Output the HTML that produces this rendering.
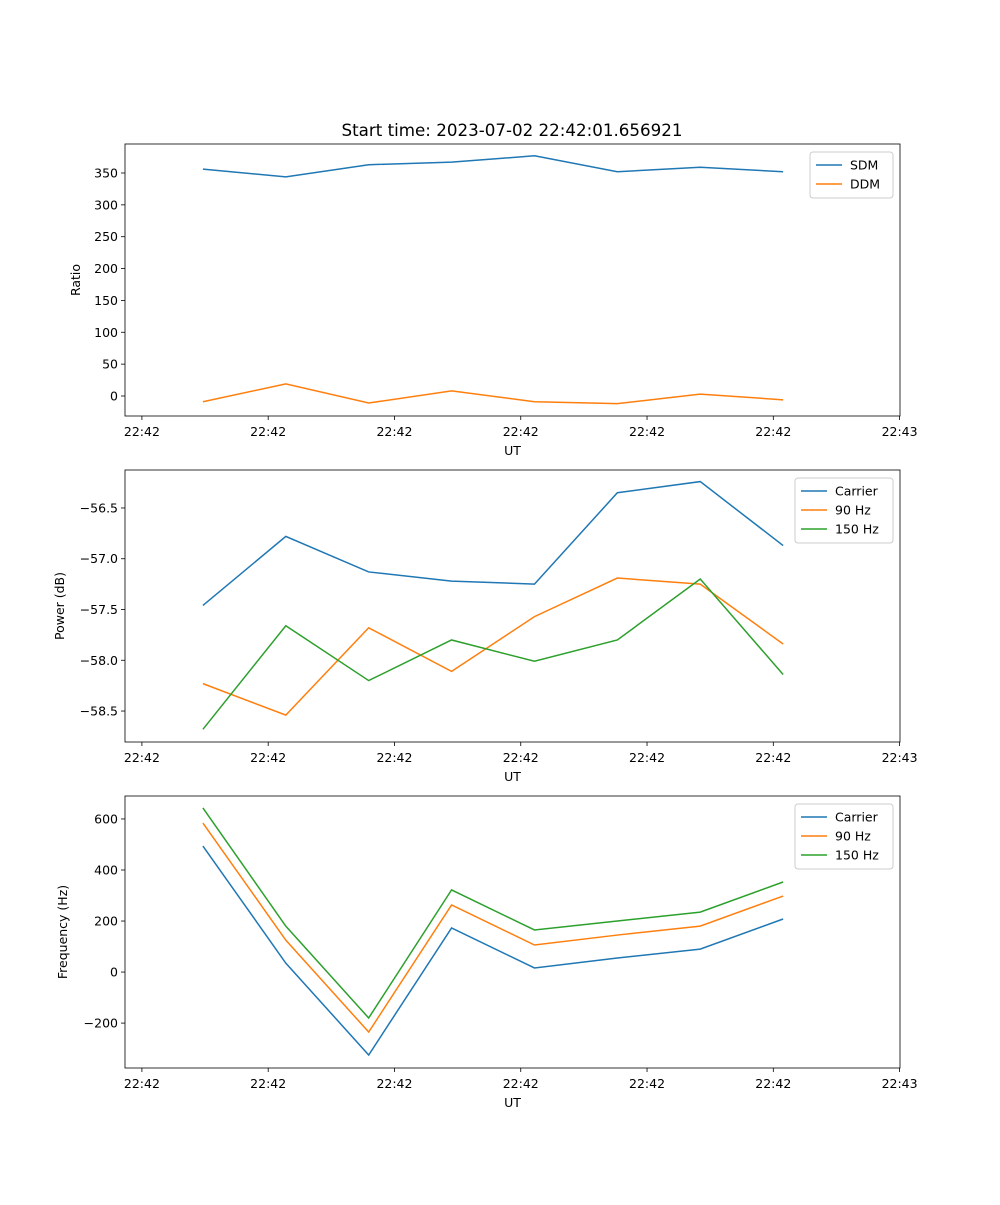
<!DOCTYPE html>
<html><head><meta charset="utf-8"><style>
body{margin:0;background:#fff;}
svg text{font-family:"DejaVu Sans","Liberation Sans",sans-serif;}
</style></head><body>
<svg id="fig" width="1000" height="1200" xmlns="http://www.w3.org/2000/svg"></svg>
<script>
const sampleIdx=[0,1,2,3,4,5,6,7];
const xTickLabels=["22:42","22:42","22:42","22:42","22:42","22:42","22:43"];
const sdm=[356,344,363,367,377,352,359,352];
const ddm=[-9,19,-11,8,-9,-12,3,-6];
const pCarrier=[-57.46,-56.78,-57.13,-57.22,-57.25,-56.35,-56.24,-56.87];
const p90=[-58.23,-58.54,-57.68,-58.11,-57.57,-57.19,-57.25,-57.84];
const p150=[-58.68,-57.66,-58.20,-57.80,-58.01,-57.80,-57.20,-58.14];
const fCarrier=[494,35,-325,173,16,55,90,208];
const f90=[584,125,-235,263,106,145,180,298];
const f150=[643,180,-180,322,165,200,235,353];
const ratioTicks=[0,50,100,150,200,250,300,350];
const powerTicks=[-58.5,-58.0,-57.5,-57.0,-56.5];
const freqTicks=[-200,0,200,400,600];

const NS="http://www.w3.org/2000/svg";
const svg=document.getElementById('fig');
function el(t,a,p){const e=document.createElementNS(NS,t);for(const k in a)e.setAttribute(k,a[k]);(p||svg).appendChild(e);return e;}
const L=125,R=900;
const xmin=-0.94,xmax=8.41,tick0=-0.736,tickStep=1.5235;
function sx(v){return L+(v-xmin)/(xmax-xmin)*(R-L);}
const C=["#1f77b4","#ff7f0e","#2ca02c"];
const FS=12.5;
function panel(name,top,bot,ymin,ymax,yticks,fmt,ylabel,series,names,legX,legW){
  const g=el('g',{},svg);
  
  
  const sy=v=>bot-(v-ymin)/(ymax-ymin)*(bot-top);
  yticks.forEach(t=>{const y=sy(t);
    el('line',{x1:L-4,x2:L,y1:y,y2:y,stroke:'#000','stroke-width':0.8},g);
    const tx=el('text',{x:L-7,y:y+4.5,'text-anchor':'end','font-size':FS},g);tx.textContent=fmt(t).replace('-','\u2212');
    });
  xTickLabels.forEach((lab,i)=>{const x=sx(tick0+i*tickStep);
    el('line',{x1:x,x2:x,y1:bot,y2:bot+4,stroke:'#000','stroke-width':0.8},g);
    const tx=el('text',{x:x,y:bot+20,'text-anchor':'middle','font-size':FS},g);tx.textContent=lab;
    });
  series.forEach((s,k)=>{
    const pl=el('polyline',{points:s.map((v,i)=>sx(sampleIdx[i])+','+sy(v)).join(' '),fill:'none',stroke:C[k],'stroke-width':1.5},g);
    
    });
  el('rect',{x:L,y:top,width:R-L,height:bot-top,fill:'none',stroke:'#000','stroke-width':0.8},g);
  const xl=el('text',{x:(L+R)/2,y:bot+39,'text-anchor':'middle','font-size':FS},g);xl.textContent='UT';
  
  const yl=el('text',{x:0,y:0,'text-anchor':'middle','font-size':FS,transform:`translate(${ylabel[1]},${(top+bot)/2}) rotate(-90)`},g);yl.textContent=ylabel[0];
  
  const lg=el('g',{},g);
  
  const lt=top+8,lh=names.length*19+8;
  el('rect',{x:legX,y:lt,width:legW,height:lh,rx:3,fill:'#fff','fill-opacity':0.8,stroke:'#ccc'},lg);
  names.forEach((n,k)=>{const y=lt+13+k*19;
    el('line',{x1:legX+6,x2:legX+32,y1:y,y2:y,stroke:C[k],'stroke-width':1.5},lg);
    const t=el('text',{x:legX+40,y:y+4.5,'font-size':FS},lg);t.textContent=n;
    });
}
const title=el('text',{x:512,y:136,'text-anchor':'middle','font-size':16.7});
title.textContent='Start time: 2023-07-02 22:42:01.656921';


panel('ratio-panel',144,416,-31.4,395.5,ratioTicks,v=>String(v),['Ratio',80],[sdm,ddm],['SDM','DDM'],810,83);
panel('power-panel',470,742,-58.805,-56.126,powerTicks,v=>v.toFixed(1),['Power (dB)',64],[pCarrier,p90,p150],['Carrier','90 Hz','150 Hz'],795,98);
panel('frequency-panel',796,1068,-376,690,freqTicks,v=>String(v),['Frequency (Hz)',67],[fCarrier,f90,f150],['Carrier','90 Hz','150 Hz'],795,98);
</script>
</body></html>
